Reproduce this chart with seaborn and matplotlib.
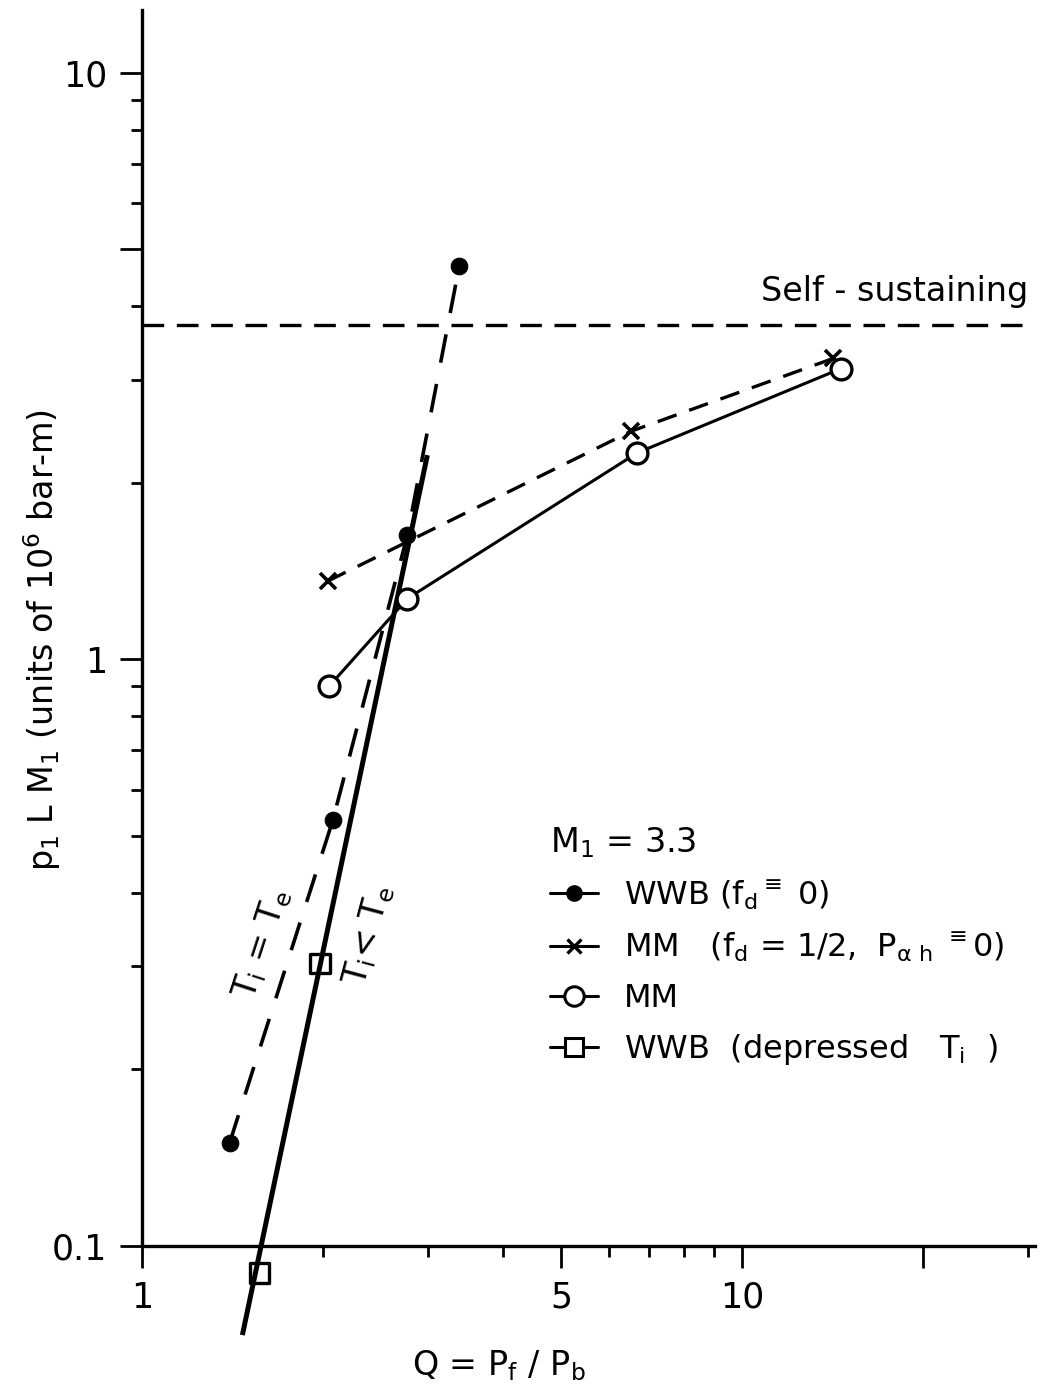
import matplotlib
matplotlib.use("Agg")
import matplotlib.pyplot as plt
from matplotlib.lines import Line2D
from matplotlib.ticker import FixedLocator, FixedFormatter, NullFormatter
import pandas as pd
import seaborn as sns

# WWB, f_d = 0  (Ti = Te branch)
wwb_q = [1.40, 2.08, 2.77, 3.38]
wwb_p = [0.150, 0.532, 1.63, 4.69]

# MM with f_d = 1/2, P_ah = 0
mm_half_q = [2.04, 6.54, 14.2]
mm_half_p = [1.36, 2.45, 3.26]

# MM
mm_q = [2.05, 2.77, 6.69, 14.6]
mm_p = [0.90, 1.27, 2.25, 3.13]

# WWB with depressed Ti
dep_q = [1.98, 1.57]
dep_p = [0.303, 0.090]

# Ti < Te trend line
tilt_q = [1.47, 2.99]
tilt_p = [0.0705, 2.23]

# self-sustaining level
self_sustaining = 3.71

x_major = [1, 5, 10, 20]
x_major_labels = ["1", "5", "10", ""]
x_minor = [2, 3, 4, 6, 7, 8, 9, 30]
y_major = [0.1, 1, 5, 10]
y_major_labels = ["0.1", "1", "", "10"]
y_minor = [0.2, 0.3, 0.4, 0.5, 0.6, 0.7, 0.8, 0.9, 2, 3, 4, 6, 7, 8, 9]

sns.set_theme(style="white")
plt.rcParams["font.family"] = ["DejaVu Sans"]
plt.rcParams["mathtext.fontset"] = "dejavusans"
plt.rcParams["mathtext.default"] = "regular"
plt.rcParams["text.color"] = "black"

W, H = 1058, 1392
fig = plt.figure(figsize=(W / 100, H / 100), dpi=100)
fig.patch.set_facecolor("white")
ax = fig.add_axes([142 / W, (H - 1246) / H, 893 / W, 1236 / H])
ax.set_xscale("log")
ax.set_yscale("log")
ax.set_xlim(1, 30.8)
ax.set_ylim(0.1, 12.8)

k = "black"

# Ti = Te : WWB long-dash line with filled dots
sns.lineplot(data=pd.DataFrame({"Q": wwb_q, "P": wwb_p}), x="Q", y="P",
             sort=False, estimator=None, ax=ax, color=k, lw=2.6,
             linestyle=(0, (8, 6)), marker="o", markersize=12,
             markeredgecolor=k, markerfacecolor=k)

# Ti < Te : heavy solid line
sns.lineplot(data=pd.DataFrame({"Q": tilt_q, "P": tilt_p}), x="Q", y="P",
             sort=False, estimator=None, ax=ax, color=k, lw=3.6,
             clip_on=False, solid_capstyle="butt")

# MM (f_d = 1/2, P_ah = 0) : short dashes with crosses
sns.lineplot(data=pd.DataFrame({"Q": mm_half_q, "P": mm_half_p}), x="Q", y="P",
             sort=False, estimator=None, ax=ax, color=k, lw=2.4,
             linestyle=(0, (6, 4)), marker="x", markersize=11,
             markeredgewidth=2.6, markeredgecolor=k)

# MM : solid line with open circles
sns.lineplot(data=pd.DataFrame({"Q": mm_q, "P": mm_p}), x="Q", y="P",
             sort=False, estimator=None, ax=ax, color=k, lw=2.2,
             marker="o", markersize=15, markerfacecolor="white",
             markeredgecolor=k, markeredgewidth=2.4)

# WWB depressed Ti : open squares
sns.scatterplot(data=pd.DataFrame({"Q": dep_q, "P": dep_p}), x="Q", y="P",
                ax=ax, marker="s", s=200, facecolor="none",
                edgecolor=k, linewidth=2.4, clip_on=False, zorder=5)

# self-sustaining level
ax.axhline(self_sustaining, color=k, lw=2.4, linestyle=(0, (6.5, 3.8)))
ax.text(30.0, 3.98, "Self - sustaining", ha="right", va="bottom",
        fontsize=24, color=k)

# branch labels
ax.text(1.584, 0.328, r"T$_i$ = T$_e$", rotation=72, ha="center",
        va="center", fontsize=24, color=k)
ax.text(2.39, 0.339, r"T$_i$< T$_e$", rotation=75, ha="center",
        va="center", fontsize=24, color=k)

# axes, ticks
for side in ("top", "right"):
    ax.spines[side].set_visible(False)
for side in ("left", "bottom"):
    ax.spines[side].set_linewidth(2.4)
    ax.spines[side].set_color(k)

ax.xaxis.set_major_locator(FixedLocator(x_major))
ax.xaxis.set_major_formatter(FixedFormatter(x_major_labels))
ax.xaxis.set_minor_locator(FixedLocator(x_minor))
ax.xaxis.set_minor_formatter(NullFormatter())
ax.yaxis.set_major_locator(FixedLocator(y_major))
ax.yaxis.set_major_formatter(FixedFormatter(y_major_labels))
ax.yaxis.set_minor_locator(FixedLocator(y_minor))
ax.yaxis.set_minor_formatter(NullFormatter())
ax.tick_params(which="major", direction="out", length=16, width=2.0,
               labelsize=25, colors=k, pad=9, bottom=True, left=True)
ax.tick_params(which="minor", direction="out", length=8, width=2.0,
               colors=k, bottom=True, left=True)

ax.set_xlabel(r"Q = P$_f$ / P$_b$", fontsize=24, color=k)
ax.xaxis.set_label_coords(0.40, -0.083)
ax.set_ylabel(r"p$_1$ L M$_1$ (units of 10$^6$ bar-m)", fontsize=24, color=k)
ax.yaxis.set_label_coords(-0.088, 0.49)

# legend
handles = [
    Line2D([], [], color=k, lw=2.2, marker="o", markersize=11,
           markerfacecolor=k, markeredgecolor=k),
    Line2D([], [], color=k, lw=2.2, marker="x", markersize=10,
           markeredgewidth=2.4, markeredgecolor=k),
    Line2D([], [], color=k, lw=2.2, marker="o", markersize=14,
           markerfacecolor="white", markeredgecolor=k, markeredgewidth=2.2),
    Line2D([], [], color=k, lw=2.2, marker="s", markersize=13,
           markerfacecolor="white", markeredgecolor=k, markeredgewidth=2.2),
]
labels = [
    r"WWB (f$_d$$^{\equiv}$ 0)",
    r"MM   (f$_d$ = 1/2,  P$_{\alpha\ h}$ $^{\equiv}$0)",
    "MM",
    r"WWB  (depressed   T$_i$  )",
]
leg = ax.legend(handles, labels, title=r"M$_1$ = 3.3", loc="upper left",
                bbox_to_anchor=(0.425, 0.364), frameon=False,
                alignment="left", fontsize=23, title_fontsize=24,
                handlelength=1.5, handletextpad=0.8, labelspacing=0.58)
leg.get_title().set_color(k)
for t in leg.get_texts():
    t.set_color(k)

fig.savefig("out.png", dpi=100, facecolor="white")
